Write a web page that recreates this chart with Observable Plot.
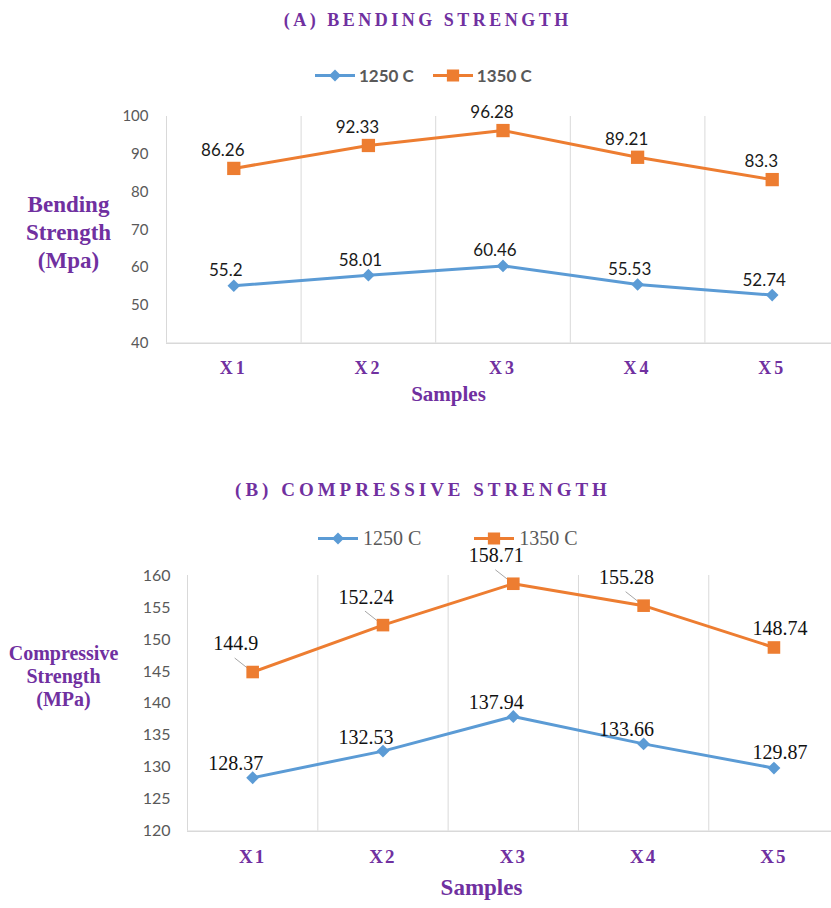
<!DOCTYPE html>
<html>
<head>
<meta charset="utf-8">
<script src="https://cdn.jsdelivr.net/npm/d3@7"></script>
<script src="https://cdn.jsdelivr.net/npm/@observablehq/plot@0.6"></script>
<style>
  body { margin: 0; background: #fff; }
  #fig { position: relative; width: 831px; height: 908px; overflow: hidden; background: #fff; }
  #fig > svg { position: absolute; left: 0; }
  .title { position: absolute; transform: translate(-50%, -50%); white-space: nowrap;
           font-family: "Liberation Serif", "Times New Roman", serif; font-weight: bold; color: #7030A0; }
  .legend { position: absolute; display: flex; align-items: center; transform: translateY(-50%);
            white-space: nowrap; color: #595959; }
  .legend .item { display: flex; align-items: center; }
  .legend svg { display: block; }
</style>
</head>
<body>
<div id="fig"></div>
<script>
// Samples and measured strengths (MPa) for the two firing temperatures
const samples = ["X1", "X2", "X3", "X4", "X5"];
const seriesNames = ["1250 C", "1350 C"];
const seriesColors = ["#5B9BD5", "#ED7D31"];

const bending1250 = [55.2, 58.01, 60.46, 55.53, 52.74];
const bending1350 = [86.26, 92.33, 96.28, 89.21, 83.3];
const bendingTicks = [40, 50, 60, 70, 80, 90, 100];

const compressive1250 = [128.37, 132.53, 137.94, 133.66, 129.87];
const compressive1350 = [144.9, 152.24, 158.71, 155.28, 148.74];
const compressiveTicks = [120, 125, 130, 135, 140, 145, 150, 155, 160];

const purple = "#7030A0";
const gridColor = "#D9D9D9";
const tickColor = "#595959";
const serif = "Liberation Serif, Times New Roman, serif";

function rowsFor(values, series) {
  return values.map((v, k) => ({ i: k + 1, sample: samples[k], series, value: v }));
}

const fig = document.getElementById("fig");

// ---------- (A) Bending strength ----------
{
  const r1250 = rowsFor(bending1250, seriesNames[0]);
  const r1350 = rowsFor(bending1350, seriesNames[1]);
  const H = 450;
  const chart = Plot.plot({
    width: 831, height: H,
    marginTop: 116, marginBottom: H - 342.7, marginLeft: 166, marginRight: 0,
    style: { background: "transparent", overflow: "visible" },
    x: { type: "linear", domain: [0.5, samples.length + 0.5], range: [166, 839] },
    y: { domain: [bendingTicks[0], bendingTicks[bendingTicks.length - 1]] },
    color: { domain: seriesNames, range: seriesColors },
    marks: [
      Plot.ruleX(samples.map((_, k) => k + 0.5), { stroke: gridColor, strokeWidth: 1 }),
      Plot.ruleY([bendingTicks[0]], { stroke: gridColor, strokeWidth: 1.5 }),
      Plot.axisY({ ticks: bendingTicks, tickSize: 0, tickPadding: 18, fontSize: 15,
                   fontFamily: "Lato", fill: tickColor, label: null }),
      Plot.axisX({ ticks: samples.map((_, k) => k + 1), tickFormat: d => samples[d - 1],
                   tickSize: 0, tickPadding: 18, fontSize: 18, fontFamily: serif,
                   fontWeight: "bold", fill: purple, label: null }),
      Plot.line([...r1250, ...r1350], { x: "i", y: "value", z: "series", stroke: "series", strokeWidth: 3 }),
      Plot.dot(r1250, { x: "i", y: "value", symbol: "diamond2", r: 5.7, fill: seriesColors[0], stroke: "none" }),
      Plot.dot(r1350, { x: "i", y: "value", symbol: "square", r: 7.5, fill: seriesColors[1], stroke: "none" }),
      Plot.text(r1250, { x: "i", y: "value", text: d => String(d.value), dx: -8, dy: -15,
                         fontSize: 17, fontFamily: "Lato", fill: "#1a1a1a" }),
      Plot.text(r1350, { x: "i", y: "value", text: d => String(d.value), dx: -11, dy: -18,
                         fontSize: 17, fontFamily: "Lato", fill: "#1a1a1a" }),
      Plot.text(["Bending\nStrength\n(Mpa)"], { text: d => d, frameAnchor: "left", dx: -98, dy: 1.5,
                         textAnchor: "middle", lineHeight: 1.22, fontSize: 23,
                         fontFamily: serif, fontWeight: "bold", fill: purple }),
      Plot.text(["Samples"], { text: d => d, frameAnchor: "bottom", dx: -50.5, dy: 58,
                         fontSize: 21, fontFamily: serif, fontWeight: "bold", fill: purple })
    ]
  });
  chart.style.top = "0px";
  fig.appendChild(chart);
  d3.select(chart).selectAll('[aria-label="x-axis tick label"] text').attr("letter-spacing", 3);
}

// ---------- (B) Compressive strength ----------
{
  const r1250 = rowsFor(compressive1250, seriesNames[0]);
  const r1350 = rowsFor(compressive1350, seriesNames[1]);
  const H = 458;
  const top = 450;
  const xRange = [187, 838.6];
  const yRange = [830.7 - top, 575 - top];
  const pxX = (xRange[1] - xRange[0]) / samples.length;
  const yDomain = [compressiveTicks[0], compressiveTicks[compressiveTicks.length - 1]];
  const pxY = (yRange[0] - yRange[1]) / (yDomain[1] - yDomain[0]);
  const last = samples.length;
  const labelFont = { fontSize: 20, fontFamily: serif, fill: "#111" };
  const chart = Plot.plot({
    width: 831, height: H,
    marginTop: yRange[1], marginBottom: H - yRange[0], marginLeft: 187, marginRight: 0,
    style: { background: "transparent", overflow: "visible" },
    x: { type: "linear", domain: [0.5, samples.length + 0.5], range: xRange },
    y: { domain: yDomain },
    color: { domain: seriesNames, range: seriesColors },
    marks: [
      Plot.ruleX(samples.map((_, k) => k + 0.5), { stroke: gridColor, strokeWidth: 1 }),
      Plot.ruleY([yDomain[0]], { stroke: gridColor, strokeWidth: 1.5 }),
      Plot.axisY({ ticks: compressiveTicks, tickSize: 0, tickPadding: 17, fontSize: 16,
                   fontFamily: "Lato", fill: tickColor, label: null }),
      Plot.axisX({ ticks: samples.map((_, k) => k + 1), tickFormat: d => samples[d - 1],
                   tickSize: 0, tickPadding: 18, fontSize: 19, fontFamily: serif,
                   fontWeight: "bold", fill: purple, label: null }),
      Plot.line([...r1250, ...r1350], { x: "i", y: "value", z: "series", stroke: "series", strokeWidth: 3 }),
      // leader lines from the 1350 C labels to their points
      Plot.link(r1350.filter(d => d.i < last), {
        x1: d => d.i - 18 / pxX, y1: d => d.value + 14 / pxY,
        x2: d => d.i - 4 / pxX, y2: d => d.value + 3 / pxY,
        stroke: "#A6A6A6", strokeWidth: 1 }),
      Plot.dot(r1250, { x: "i", y: "value", symbol: "diamond2", r: 5.8, fill: seriesColors[0], stroke: "none" }),
      Plot.dot(r1350, { x: "i", y: "value", symbol: "square", r: 7.1, fill: seriesColors[1], stroke: "none" }),
      Plot.text(r1250.filter(d => d.i < last), { x: "i", y: "value", text: d => String(d.value), dx: -17, dy: -14, ...labelFont }),
      Plot.text(r1250.filter(d => d.i === last), { x: "i", y: "value", text: d => String(d.value), dx: 6, dy: -16, ...labelFont }),
      Plot.text(r1350.filter(d => d.i < last), { x: "i", y: "value", text: d => String(d.value), dx: -17, dy: -28, ...labelFont }),
      Plot.text(r1350.filter(d => d.i === last), { x: "i", y: "value", text: d => String(d.value), dx: 6, dy: -19, ...labelFont }),
      Plot.text(["Compressive\nStrength\n(MPa)"], { text: d => d, frameAnchor: "left", dx: -124, dy: -28,
                         textAnchor: "middle", lineHeight: 1.15, fontSize: 20,
                         fontFamily: serif, fontWeight: "bold", fill: purple }),
      Plot.text(["Samples"], { text: d => d, frameAnchor: "bottom", dx: -28, dy: 64,
                         fontSize: 23, fontFamily: serif, fontWeight: "bold", fill: purple })
    ]
  });
  chart.style.top = top + "px";
  fig.appendChild(chart);
  d3.select(chart).selectAll('[aria-label="x-axis tick label"] text').attr("letter-spacing", 2);
}

// ---------- titles and legends ----------
function addTitle(text, cx, cy, size, spacing) {
  const el = document.createElement("div");
  el.className = "title";
  el.textContent = text;
  el.style.left = (cx + spacing / 2) + "px";
  el.style.top = cy + "px";
  el.style.fontSize = size + "px";
  el.style.letterSpacing = spacing + "px";
  fig.appendChild(el);
}

function swatch(color, symbolType, size) {
  const s = d3.create("svg").attr("width", 40).attr("height", 16);
  s.append("line").attr("x1", 0).attr("x2", 40).attr("y1", 8).attr("y2", 8)
    .attr("stroke", color).attr("stroke-width", 3);
  s.append("path").attr("d", d3.symbol(symbolType, size)())
    .attr("transform", "translate(20,8)").attr("fill", color);
  return s.node();
}

function addLegend(left, cy, font, gapText, gapItem) {
  const el = document.createElement("div");
  el.className = "legend";
  el.style.left = left + "px";
  el.style.top = cy + "px";
  Object.assign(el.style, font);
  const symbols = [d3.symbolDiamond2, d3.symbolSquare];
  const sizes = [92, 150];
  seriesNames.forEach((name, k) => {
    const item = document.createElement("div");
    item.className = "item";
    if (k > 0) item.style.marginLeft = gapItem + "px";
    item.appendChild(swatch(seriesColors[k], symbols[k], sizes[k]));
    const label = document.createElement("span");
    label.textContent = name;
    label.style.marginLeft = gapText + "px";
    item.appendChild(label);
    el.appendChild(item);
  });
  fig.appendChild(el);
}

addTitle("(A) BENDING STRENGTH", 426, 20, 18, 3.5);
addLegend(315, 75, { fontFamily: "Lato", fontWeight: "bold", fontSize: "17px" }, 4, 19);
addTitle("(B) COMPRESSIVE STRENGTH", 421, 490, 19, 4);
addLegend(318, 538, { fontFamily: "Liberation Serif, Times New Roman, serif", fontSize: "20px" }, 5, 53);
</script>
</body>
</html>
